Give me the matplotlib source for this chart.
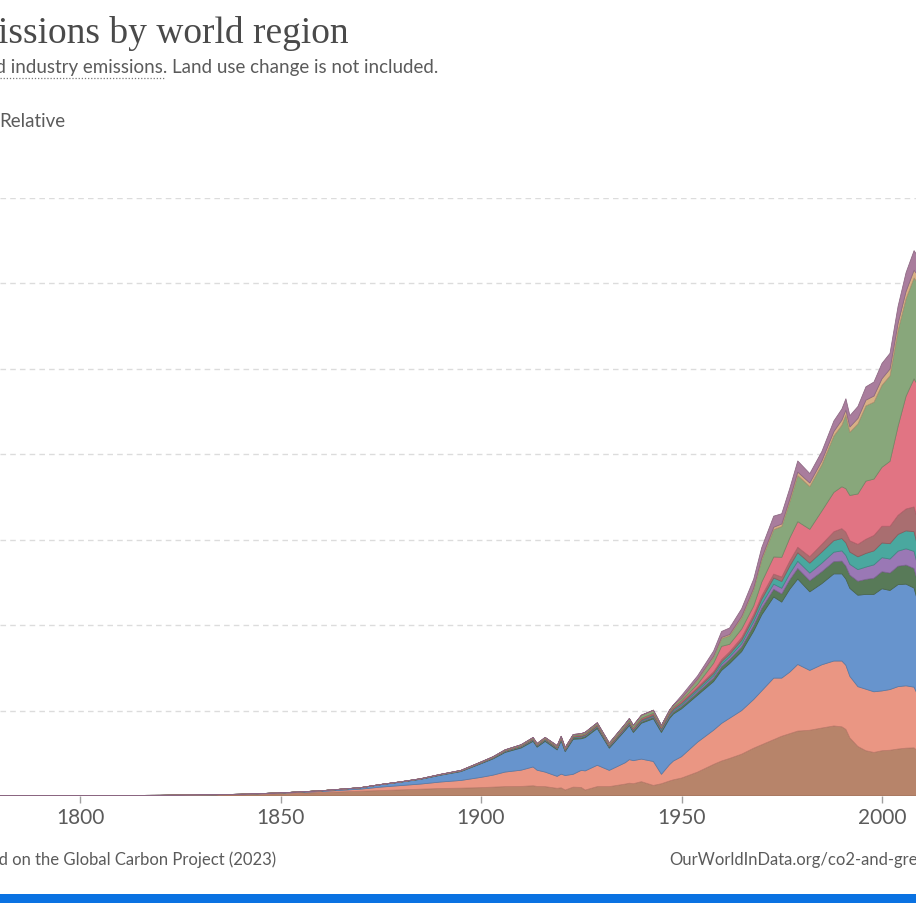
import numpy as np
import matplotlib
matplotlib.use("Agg")
import matplotlib.pyplot as plt
import matplotlib.colors as mcolors
from matplotlib.patches import Rectangle

# annual CO2 emissions, billion tonnes
years = [1780, 1800, 1820, 1830, 1840,
         1850, 1860, 1870, 1875, 1880,
         1885, 1890, 1895, 1900, 1903,
         1906, 1910, 1913, 1914, 1916,
         1919, 1920, 1921, 1923, 1925,
         1926, 1929, 1932, 1936, 1937,
         1938, 1940, 1943, 1945, 1947,
         1948, 1950, 1954, 1958, 1960,
         1962, 1965, 1968, 1970, 1973,
         1975, 1977, 1979, 1982, 1985,
         1988, 1990, 1991, 1992, 1994,
         1996, 1998, 2000, 2002, 2004,
         2006, 2008, 2009]

europe_other = [0.01, 0.02, 0.03, 0.05, 0.07,
                0.13, 0.20, 0.28, 0.32, 0.36,
                0.40, 0.44, 0.46, 0.49, 0.52,
                0.55, 0.56, 0.60, 0.56, 0.55,
                0.45, 0.48, 0.35, 0.52, 0.50,
                0.35, 0.55, 0.55, 0.70, 0.75,
                0.72, 0.84, 0.62, 0.72, 0.88,
                0.95, 1.05, 1.40, 1.85, 2.05,
                2.20, 2.45, 2.80, 3.00, 3.30,
                3.50, 3.65, 3.80, 3.85, 3.98,
                4.10, 4.05, 3.90, 3.40, 2.90,
                2.65, 2.55, 2.65, 2.68, 2.75,
                2.80, 2.82, 2.62]

eu27 = [0.002, 0.003, 0.006, 0.01, 0.02,
        0.03, 0.06, 0.12, 0.20, 0.25,
        0.30, 0.38, 0.45, 0.60, 0.70,
        0.85, 0.95, 1.10, 0.95, 0.85,
        0.70, 0.80, 0.85, 0.75, 1.00,
        1.12, 1.25, 0.95, 1.25, 1.38,
        1.35, 1.32, 1.40, 0.55, 0.95,
        1.10, 1.25, 1.75, 2.00, 2.20,
        2.35, 2.55, 2.85, 3.15, 3.60,
        3.40, 3.60, 3.90, 3.50, 3.70,
        3.80, 3.85, 3.75, 3.60, 3.50,
        3.60, 3.55, 3.50, 3.55, 3.65,
        3.65, 3.55, 3.25]

usa = [0.0, 0.001, 0.003, 0.005, 0.01,
       0.02, 0.04, 0.08, 0.14, 0.20,
       0.28, 0.40, 0.52, 0.80, 0.95,
       1.15, 1.30, 1.50, 1.35, 1.80,
       1.55, 1.95, 1.40, 2.05, 1.85,
       1.95, 2.15, 1.30, 1.90, 2.00,
       1.65, 2.10, 2.50, 2.45, 2.70,
       2.75, 2.80, 2.75, 2.85, 3.10,
       3.20, 3.45, 4.00, 4.45, 4.75,
       4.45, 4.85, 5.00, 4.60, 4.75,
       5.10, 5.10, 5.05, 5.15, 5.35,
       5.55, 5.70, 5.98, 5.80, 5.97,
       5.95, 5.80, 5.45]

north_america_other = [0, 0, 0, 0, 0.001,
                       0.002, 0.003, 0.005, 0.007, 0.01,
                       0.014, 0.02, 0.025, 0.03, 0.04,
                       0.05, 0.06, 0.07, 0.065, 0.07,
                       0.075, 0.08, 0.07, 0.08, 0.085,
                       0.09, 0.09, 0.07, 0.08, 0.085,
                       0.085, 0.09, 0.10, 0.11, 0.12,
                       0.13, 0.14, 0.16, 0.20, 0.22,
                       0.24, 0.28, 0.33, 0.38, 0.45,
                       0.48, 0.55, 0.62, 0.65, 0.70,
                       0.72, 0.75, 0.76, 0.78, 0.82,
                       0.88, 0.95, 1.00, 1.02, 1.08,
                       1.12, 1.15, 1.10]

south_america = [0, 0, 0, 0, 0,
                 0, 0.001, 0.002, 0.003, 0.004,
                 0.005, 0.006, 0.008, 0.01, 0.012,
                 0.014, 0.02, 0.022, 0.02, 0.02,
                 0.022, 0.025, 0.022, 0.028, 0.03,
                 0.03, 0.035, 0.03, 0.038, 0.04,
                 0.04, 0.045, 0.05, 0.055, 0.065,
                 0.07, 0.08, 0.10, 0.13, 0.14,
                 0.15, 0.18, 0.22, 0.25, 0.30,
                 0.33, 0.36, 0.42, 0.45, 0.50,
                 0.55, 0.60, 0.62, 0.63, 0.68,
                 0.72, 0.78, 0.82, 0.82, 0.88,
                 0.95, 1.00, 0.97]

africa = [0, 0, 0, 0, 0,
          0, 0, 0.001, 0.001, 0.002,
          0.003, 0.005, 0.006, 0.01, 0.012,
          0.014, 0.016, 0.02, 0.018, 0.02,
          0.02, 0.022, 0.02, 0.024, 0.026,
          0.027, 0.03, 0.025, 0.035, 0.038,
          0.04, 0.045, 0.05, 0.055, 0.065,
          0.075, 0.09, 0.11, 0.13, 0.15,
          0.16, 0.20, 0.24, 0.28, 0.36,
          0.40, 0.45, 0.50, 0.58, 0.65,
          0.68, 0.72, 0.74, 0.72, 0.75,
          0.80, 0.82, 0.86, 0.90, 0.98,
          1.05, 1.15, 1.12]

india = [0, 0, 0, 0, 0,
         0, 0, 0.001, 0.002, 0.003,
         0.005, 0.008, 0.012, 0.02, 0.022,
         0.025, 0.03, 0.033, 0.033, 0.035,
         0.038, 0.04, 0.038, 0.042, 0.045,
         0.046, 0.05, 0.045, 0.052, 0.056,
         0.058, 0.065, 0.07, 0.07, 0.072,
         0.07, 0.075, 0.09, 0.11, 0.12,
         0.14, 0.16, 0.18, 0.20, 0.23,
         0.26, 0.29, 0.32, 0.38, 0.45,
         0.52, 0.58, 0.62, 0.66, 0.73,
         0.83, 0.90, 0.98, 1.02, 1.12,
         1.28, 1.45, 1.60]

china = [0, 0, 0, 0, 0,
         0, 0, 0, 0, 0,
         0.001, 0.002, 0.003, 0.005, 0.006,
         0.008, 0.01, 0.012, 0.012, 0.014,
         0.016, 0.018, 0.018, 0.02, 0.022,
         0.024, 0.028, 0.03, 0.04, 0.04,
         0.04, 0.045, 0.05, 0.03, 0.04,
         0.05, 0.08, 0.17, 0.50, 0.78,
         0.44, 0.50, 0.50, 0.80, 1.00,
         1.15, 1.35, 1.50, 1.60, 1.95,
         2.30, 2.45, 2.55, 2.65, 2.95,
         3.40, 3.30, 3.45, 3.80, 5.20,
         6.60, 7.50, 7.90]

asia_other = [0, 0, 0, 0, 0,
              0, 0, 0.001, 0.001, 0.002,
              0.004, 0.006, 0.01, 0.02, 0.025,
              0.03, 0.04, 0.05, 0.05, 0.055,
              0.06, 0.06, 0.055, 0.065, 0.07,
              0.075, 0.08, 0.08, 0.11, 0.12,
              0.13, 0.15, 0.15, 0.06, 0.09,
              0.10, 0.12, 0.25, 0.35, 0.45,
              0.50, 0.65, 0.95, 1.30, 1.60,
              1.80, 2.10, 2.70, 2.50, 2.70,
              3.30, 3.60, 4.30, 3.70, 4.10,
              4.40, 4.50, 4.80, 5.00, 5.60,
              5.70, 5.90, 6.00]

oceania = [0, 0, 0, 0, 0,
           0, 0.001, 0.002, 0.002, 0.003,
           0.004, 0.006, 0.008, 0.01, 0.011,
           0.012, 0.015, 0.017, 0.016, 0.016,
           0.018, 0.02, 0.019, 0.021, 0.022,
           0.022, 0.025, 0.022, 0.026, 0.028,
           0.028, 0.03, 0.033, 0.033, 0.036,
           0.038, 0.04, 0.05, 0.06, 0.07,
           0.075, 0.09, 0.10, 0.12, 0.14,
           0.15, 0.17, 0.20, 0.21, 0.23,
           0.26, 0.30, 0.30, 0.31, 0.32,
           0.34, 0.36, 0.38, 0.40, 0.42,
           0.43, 0.45, 0.45]

transport = [0, 0, 0, 0, 0,
             0, 0, 0, 0, 0,
             0, 0, 0, 0, 0,
             0, 0, 0, 0, 0,
             0, 0, 0, 0, 0,
             0, 0, 0, 0, 0,
             0, 0, 0, 0, 0,
             0, 0.15, 0.20, 0.30, 0.35,
             0.38, 0.45, 0.52, 0.60, 0.65,
             0.60, 0.63, 0.65, 0.55, 0.55,
             0.62, 0.65, 0.66, 0.66, 0.70,
             0.78, 0.82, 0.90, 0.92, 1.00,
             1.10, 1.15, 1.10]

series = [europe_other, eu27, usa, north_america_other, south_america,
          africa, india, china, asia_other, oceania, transport]
colors = ['#b7846a', '#ea9683', '#6794cd', '#587a58', '#9a78b5',
          '#4aa89f', '#a96e70', '#e17483', '#88a77b', '#d8b085', '#a97d9d']

W = H = 916
fig = plt.figure(figsize=(W / 100, H / 100), dpi=100)
fig.patch.set_facecolor('white')


def fx(x):
    return x / W


def fy(y):
    return 1 - y / H


# plot area: 1800 at x=80, 2000 at x=882; 0 at y=796, 35 at y=198
px_per_year = (882 - 80) / 200
x0 = 1800 - 80 / px_per_year
x1 = x0 + W / px_per_year
ax = fig.add_axes([0, fy(796), 1, fy(198) - fy(796)])
ax.set_xlim(x0, x1)
ax.set_ylim(0, 35)
for s in ax.spines.values():
    s.set_visible(False)

for v in range(5, 40, 5):
    ax.axhline(v, color='#dcdcdc', lw=1, ls=(0, (4, 3)), zorder=0)

polys = ax.stackplot(years, *series, colors=colors, zorder=2)
for p, c in zip(polys, colors):
    r, g, b = mcolors.to_rgb(c)
    p.set_edgecolor((r * 0.82, g * 0.82, b * 0.82))
    p.set_linewidth(0.55)

ax.set_yticks([])
ax.set_xticks([1800, 1850, 1900, 1950, 2000])
ax.tick_params(axis='x', length=5, width=1, color='#a0a0a0', pad=4,
               labelsize=15, labelcolor='#5b5b5b')
for lab in ax.get_xticklabels():
    lab.set_fontfamily('Lato')

# header
fig.text(fx(349), fy(43), 'Annual CO\u2082 emissions by world region', ha='right',
         va='baseline', fontsize=27, family='Liberation Serif', color='#4a4a4a')
fig.text(fx(438), fy(73), 'Fossil fuel and industry emissions. Land use change is not included.',
         ha='right', va='baseline', fontsize=13.5, family='Lato', color='#5b5b5b')
fig.add_artist(plt.Line2D([0, fx(165)], [fy(77.5), fy(77.5)], color='#777777',
                          lw=0.9, ls=(0, (1, 1.5))))
fig.text(fx(-1), fy(127), 'Relative', ha='left', va='baseline', fontsize=13.5,
         family='Lato', color='#5b5b5b')

# footer
fig.text(fx(276), fy(860), 'Data source: Our World in Data based on the Global Carbon Project (2023)',
         ha='right', va='center', fontsize=12, family='Lato', color='#5b5b5b')
fig.text(fx(669), fy(860), 'OurWorldInData.org/co2-and-greenhouse-gas-emissions',
         ha='left', va='center', fontsize=12, family='Lato', color='#5b5b5b')
fig.add_artist(Rectangle((0, fy(903)), 1, fy(894) - fy(903), transform=fig.transFigure,
                         color='#0a72e2', lw=0))

fig.savefig('out.png', dpi=100, facecolor='white')
